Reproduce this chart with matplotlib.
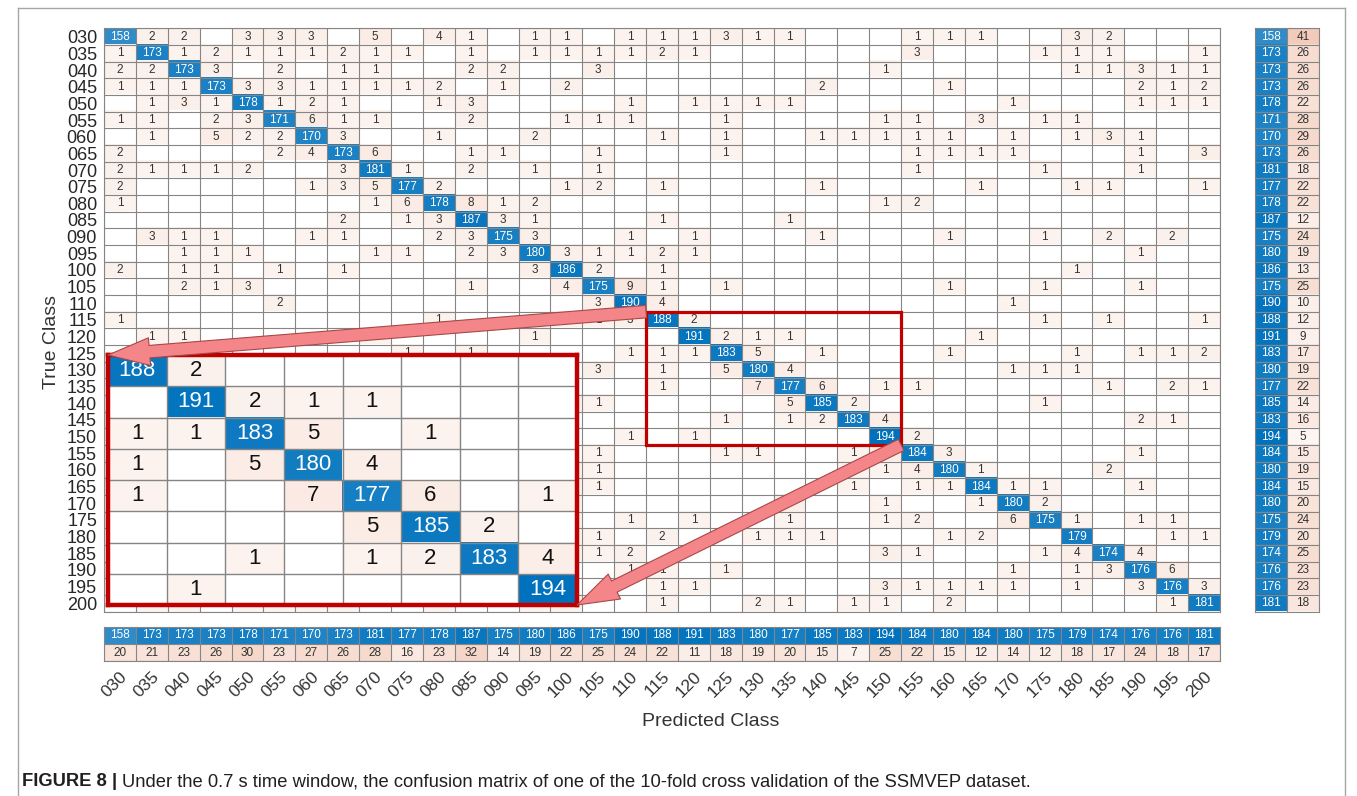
import numpy as np
import matplotlib
matplotlib.use("Agg")
import matplotlib.pyplot as plt
from matplotlib.patches import Rectangle, ConnectionPatch, ArrowStyle
from matplotlib.lines import Line2D
from matplotlib.transforms import blended_transform_factory, ScaledTranslation

plt.rcParams['font.family'] = ['Liberation Sans', 'DejaVu Sans']

# ---------------- data ----------------
classes = ["030", "035", "040", "045", "050", "055", "060", "065", "070", "075",
           "080", "085", "090", "095", "100", "105", "110", "115", "120", "125",
           "130", "135", "140", "145", "150", "155", "160", "165", "170", "175",
           "180", "185", "190", "195", "200"]

correct_counts = [158, 173, 173, 173, 178, 171, 170, 173, 181, 177, 178, 187, 175, 180,
                  186, 175, 190, 188, 191, 183, 180, 177, 185, 183, 194, 184, 180, 184,
                  180, 175, 179, 174, 176, 176, 181]

# off-diagonal counts per true class: (predicted class index, count)
misclassified = [
    [(1, 2), (2, 2), (4, 3), (5, 3), (6, 3), (8, 5), (10, 4), (11, 1), (13, 1), (14, 1), (16, 1), (17, 1), (18, 1), (19, 3), (20, 1), (21, 1), (25, 1), (26, 1), (27, 1), (30, 3), (31, 2)],
    [(0, 1), (2, 1), (3, 2), (4, 1), (5, 1), (6, 1), (7, 2), (8, 1), (9, 1), (11, 1), (13, 1), (14, 1), (15, 1), (16, 1), (17, 2), (18, 1), (25, 3), (29, 1), (30, 1), (31, 1), (34, 1)],
    [(0, 2), (1, 2), (3, 3), (5, 2), (7, 1), (8, 1), (11, 2), (12, 2), (15, 3), (24, 1), (30, 1), (31, 1), (32, 3), (33, 1), (34, 1)],
    [(0, 1), (1, 1), (2, 1), (4, 3), (5, 3), (6, 1), (7, 1), (8, 1), (9, 1), (10, 2), (12, 1), (14, 2), (22, 2), (26, 1), (32, 2), (33, 1), (34, 2)],
    [(1, 1), (2, 3), (3, 1), (5, 1), (6, 2), (7, 1), (10, 1), (11, 3), (16, 1), (18, 1), (19, 1), (20, 1), (21, 1), (28, 1), (32, 1), (33, 1), (34, 1)],
    [(0, 1), (1, 1), (3, 2), (4, 3), (6, 6), (7, 1), (8, 1), (11, 2), (14, 1), (15, 1), (16, 1), (19, 1), (24, 1), (25, 1), (27, 3), (29, 1), (30, 1)],
    [(1, 1), (3, 5), (4, 2), (5, 2), (7, 3), (10, 1), (13, 2), (17, 1), (19, 1), (22, 1), (23, 1), (24, 1), (25, 1), (26, 1), (28, 1), (30, 1), (31, 3), (32, 1)],
    [(0, 2), (5, 2), (6, 4), (8, 6), (11, 1), (12, 1), (15, 1), (19, 1), (25, 1), (26, 1), (27, 1), (28, 1), (32, 1), (34, 3)],
    [(0, 2), (1, 1), (2, 1), (3, 1), (4, 2), (7, 3), (9, 1), (11, 2), (13, 1), (15, 1), (25, 1), (29, 1), (32, 1)],
    [(0, 2), (6, 1), (7, 3), (8, 5), (10, 2), (14, 1), (15, 2), (17, 1), (22, 1), (27, 1), (30, 1), (31, 1), (34, 1)],
    [(0, 1), (8, 1), (9, 6), (11, 8), (12, 1), (13, 2), (24, 1), (25, 2)],
    [(7, 2), (9, 1), (10, 3), (12, 3), (13, 1), (17, 1), (21, 1)],
    [(1, 3), (2, 1), (3, 1), (6, 1), (7, 1), (10, 2), (11, 3), (13, 3), (16, 1), (18, 1), (22, 1), (26, 1), (29, 1), (31, 2), (33, 2)],
    [(2, 1), (3, 1), (4, 1), (8, 1), (9, 1), (11, 2), (12, 3), (14, 3), (15, 1), (16, 1), (17, 2), (18, 1), (32, 1)],
    [(0, 2), (2, 1), (3, 1), (5, 1), (7, 1), (13, 3), (15, 2), (17, 1), (30, 1)],
    [(2, 2), (3, 1), (4, 3), (11, 1), (14, 4), (16, 9), (17, 1), (19, 1), (26, 1), (29, 1), (32, 1)],
    [(5, 2), (15, 3), (17, 4), (28, 1)],
    [(0, 1), (10, 1), (14, 1), (15, 1), (16, 3), (18, 2), (29, 1), (31, 1), (34, 1)],
    [(1, 1), (2, 1), (8, 1), (13, 1), (19, 2), (20, 1), (21, 1), (27, 1)],
    [(9, 1), (11, 1), (16, 1), (17, 1), (18, 1), (20, 5), (22, 1), (26, 1), (30, 1), (32, 1), (33, 1), (34, 2)],
    [(0, 1), (4, 1), (11, 1), (15, 3), (17, 1), (19, 5), (21, 4), (28, 1), (29, 1), (30, 1)],
    [(2, 1), (9, 1), (17, 1), (20, 7), (22, 6), (24, 1), (25, 1), (31, 1), (33, 2), (34, 1)],
    [(1, 1), (3, 1), (6, 1), (10, 1), (14, 1), (15, 1), (21, 5), (23, 2), (29, 1)],
    [(0, 1), (4, 1), (5, 1), (8, 1), (13, 1), (19, 1), (21, 1), (22, 2), (24, 4), (32, 2), (33, 1)],
    [(7, 1), (16, 1), (18, 1), (25, 2)],
    [(12, 1), (15, 1), (19, 1), (20, 1), (23, 1), (24, 6), (26, 3), (32, 1)],
    [(1, 1), (2, 1), (3, 1), (4, 1), (6, 1), (8, 1), (10, 1), (11, 1), (14, 1), (15, 1), (23, 1), (24, 1), (25, 4), (27, 1), (31, 2)],
    [(0, 1), (2, 1), (4, 1), (5, 1), (7, 1), (9, 1), (12, 1), (14, 1), (15, 1), (23, 1), (25, 1), (26, 1), (28, 1), (29, 1), (32, 1)],
    [(1, 1), (2, 1), (3, 2), (4, 2), (5, 1), (6, 1), (7, 1), (8, 1), (10, 1), (11, 1), (14, 1), (21, 3), (24, 1), (27, 1), (29, 2)],
    [(0, 1), (1, 1), (2, 1), (4, 1), (5, 1), (6, 1), (9, 1), (13, 1), (14, 1), (16, 1), (18, 1), (21, 1), (24, 1), (25, 2), (28, 6), (30, 1), (32, 1), (33, 1)],
    [(1, 1), (2, 1), (3, 1), (4, 1), (5, 1), (7, 1), (8, 1), (10, 1), (14, 1), (15, 1), (17, 2), (20, 1), (21, 1), (22, 1), (26, 1), (27, 2), (33, 1), (34, 1)],
    [(1, 1), (2, 1), (3, 1), (4, 1), (6, 1), (7, 1), (10, 1), (11, 1), (14, 1), (15, 1), (16, 2), (24, 3), (25, 1), (29, 1), (30, 4), (32, 4)],
    [(0, 1), (2, 1), (3, 1), (4, 1), (6, 1), (7, 1), (9, 1), (10, 1), (12, 1), (16, 1), (17, 1), (19, 1), (28, 1), (30, 1), (31, 3), (33, 6)],
    [(1, 1), (3, 1), (4, 1), (6, 1), (8, 1), (11, 1), (13, 1), (17, 1), (18, 1), (24, 3), (25, 1), (26, 1), (27, 1), (28, 1), (30, 1), (32, 3), (34, 3)],
    [(1, 1), (2, 1), (4, 1), (5, 1), (6, 1), (7, 1), (10, 1), (13, 1), (14, 1), (17, 1), (20, 2), (21, 1), (23, 1), (24, 1), (26, 2), (33, 1)],
]

row_errors = [41, 26, 26, 26, 22, 28, 29, 26, 18, 22, 22, 12, 24, 19, 13, 25, 10, 12, 9,
              17, 19, 22, 14, 16, 5, 15, 19, 15, 20, 24, 20, 25, 23, 23, 18]
col_errors = [20, 21, 23, 26, 30, 23, 27, 26, 28, 16, 23, 32, 14, 19, 22, 25, 24, 22, 11,
              18, 19, 20, 15, 7, 25, 22, 15, 12, 14, 12, 18, 17, 24, 18, 17]

zoom_first, zoom_last = 17, 24   # classes 115 .. 150 shown enlarged

# ---------------- build matrix ----------------
n = len(classes)
cm = np.zeros((n, n), dtype=int)
for i, v in enumerate(correct_counts):
    cm[i, i] = v
for i, row in enumerate(misclassified):
    for j, v in row:
        cm[i, j] = v

BLUE = np.array([0, 114, 189]) / 255.0
RED = np.array([217, 83, 25]) / 255.0
vmax = cm.max()
emax = max(max(row_errors), max(col_errors))


def tint(base, a):
    return 1.0 - a * (1.0 - base)


def cell_rgb(v, diag):
    if v == 0:
        return np.ones(3)
    if diag:
        return tint(BLUE, v / vmax)
    return tint(RED, 0.065 + 0.008 * v)


def err_rgb(v):
    return tint(RED, 0.02 + 0.28 * v / emax)


img = np.ones((n, n, 3))
for i in range(n):
    for j in range(n):
        img[i, j] = cell_rgb(cm[i, j], i == j)

GRID = '#858585'
TXT = '#333333'
W, H = 1357, 796


def fx(px):
    return px / W


def fy(py):
    return 1 - py / H


fig = plt.figure(figsize=(W / 100, H / 100), dpi=100)

top, bot = 28.4, 611.5
left, right = 104, 1220

# ---------------- main matrix ----------------
ax = fig.add_axes([fx(left), fy(bot), (right - left) / W, (bot - top) / H])
ax.imshow(img, extent=(-0.5, n - 0.5, n - 0.5, -0.5), aspect='auto', interpolation='nearest')
ax.vlines(np.arange(n + 1) - 0.5, -0.5, n - 0.5, color=GRID, lw=0.8)
ax.hlines(np.arange(n + 1) - 0.5, -0.5, n - 0.5, color=GRID, lw=0.8)
for i in range(n):
    for j in range(n):
        v = cm[i, j]
        if v:
            ax.text(j, i, str(v), ha='center', va='center', fontsize=8.5,
                    color='white' if i == j else TXT)
ax.set_xlim(-0.5, n - 0.5)
ax.set_ylim(n - 0.5, -0.5)
ax.set_xticks([])
ax.set_yticks(range(n))
ax.set_yticklabels(classes, fontsize=13, color='#262626')
ax.tick_params(axis='y', length=0, pad=5)
for s in ax.spines.values():
    s.set_color(GRID)
    s.set_linewidth(0.8)

# small red box around zoomed region
ax.add_patch(Rectangle((zoom_first - 0.5, zoom_first - 0.5), zoom_last - zoom_first + 1,
                       zoom_last - zoom_first + 1, fill=False, ec='#c00000', lw=2.3,
                       zorder=5, clip_on=False))

# ---------------- right summary (per true class) ----------------
ax_r = fig.add_axes([fx(1255), fy(bot), 64 / W, (bot - top) / H])
rimg = np.ones((n, 2, 3))
for i in range(n):
    rimg[i, 0] = tint(BLUE, correct_counts[i] / vmax)
    rimg[i, 1] = err_rgb(row_errors[i])
ax_r.imshow(rimg, extent=(-0.5, 1.5, n - 0.5, -0.5), aspect='auto', interpolation='nearest')
ax_r.vlines(np.arange(3) - 0.5, -0.5, n - 0.5, color=GRID, lw=0.8)
ax_r.hlines(np.arange(n + 1) - 0.5, -0.5, 1.5, color=GRID, lw=0.8)
for i in range(n):
    ax_r.text(0, i, str(correct_counts[i]), ha='center', va='center', fontsize=8.5, color='white')
    ax_r.text(1, i, str(row_errors[i]), ha='center', va='center', fontsize=8.5, color=TXT)
ax_r.set_xlim(-0.5, 1.5)
ax_r.set_ylim(n - 0.5, -0.5)
ax_r.set_xticks([])
ax_r.set_yticks([])
for s in ax_r.spines.values():
    s.set_color(GRID)
    s.set_linewidth(0.8)

# ---------------- bottom summary (per predicted class) ----------------
b_top, b_bot = 627, 661
ax_b = fig.add_axes([fx(left), fy(b_bot), (right - left) / W, (b_bot - b_top) / H])
bimg = np.ones((2, n, 3))
col_correct = [cm[j, j] for j in range(n)]
for j in range(n):
    bimg[0, j] = tint(BLUE, col_correct[j] / vmax)
    bimg[1, j] = err_rgb(col_errors[j])
ax_b.imshow(bimg, extent=(-0.5, n - 0.5, 1.5, -0.5), aspect='auto', interpolation='nearest')
ax_b.vlines(np.arange(n + 1) - 0.5, -0.5, 1.5, color=GRID, lw=0.8)
ax_b.hlines(np.arange(3) - 0.5, -0.5, n - 0.5, color=GRID, lw=0.8)
for j in range(n):
    ax_b.text(j, 0, str(col_correct[j]), ha='center', va='center', fontsize=8.5, color='white')
    ax_b.text(j, 1, str(col_errors[j]), ha='center', va='center', fontsize=8.5, color=TXT)
ax_b.set_xlim(-0.5, n - 0.5)
ax_b.set_ylim(1.5, -0.5)
ax_b.set_xticks([])
ax_b.set_yticks([])
for s in ax_b.spines.values():
    s.set_color(GRID)
    s.set_linewidth(0.8)

# rotated x tick labels
tr = blended_transform_factory(ax_b.transData, fig.transFigure) + \
    ScaledTranslation(5 / 100, 0, fig.dpi_scale_trans)
for j, lab in enumerate(classes):
    fig.text(j, fy(674), lab, transform=tr, rotation=45, rotation_mode='anchor',
             ha='right', va='center', fontsize=12.5, color='#333333')

fig.text(fx(711), fy(721), 'Predicted Class', ha='center', va='center', fontsize=14, color='#333333')
fig.text(fx(52), fy(342), 'True Class', ha='center', va='center', rotation=90, fontsize=14, color='#333333')

# ---------------- enlarged inset ----------------
in_l, in_r, in_t, in_b = 108, 577, 355, 605
ax_in = fig.add_axes([fx(in_l), fy(in_b), (in_r - in_l) / W, (in_b - in_t) / H])
ax_in.imshow(img, extent=(-0.5, n - 0.5, n - 0.5, -0.5), aspect='auto', interpolation='nearest')
z = np.arange(zoom_first, zoom_last + 2) - 0.5
ax_in.vlines(z, zoom_first - 0.5, zoom_last + 0.5, color=GRID, lw=1.0)
ax_in.hlines(z, zoom_first - 0.5, zoom_last + 0.5, color=GRID, lw=1.0)
for i in range(zoom_first, zoom_last + 1):
    for j in range(zoom_first, zoom_last + 1):
        v = cm[i, j]
        if v:
            ax_in.text(j, i, str(v), ha='center', va='center', fontsize=16,
                       color='white' if i == j else '#111111')
ax_in.set_xlim(zoom_first - 0.5, zoom_last + 0.5)
ax_in.set_ylim(zoom_last + 0.5, zoom_first - 0.5)
ax_in.set_xticks([])
ax_in.set_yticks([])
for s in ax_in.spines.values():
    s.set_color('#c00000')
    s.set_linewidth(3.2)

# ---------------- arrows ----------------
style = ArrowStyle.Simple(head_length=30, head_width=20, tail_width=9)
a1 = ConnectionPatch(xyA=(zoom_first - 0.5, zoom_first - 0.5), coordsA=ax.transData,
                     xyB=(0, 1), coordsB=ax_in.transAxes, arrowstyle=style,
                     mutation_scale=1, shrinkA=0, shrinkB=0,
                     fc='#f4868a', ec='#a84848', lw=0.8, zorder=10)
a2 = ConnectionPatch(xyA=(zoom_last + 0.5, zoom_last + 0.5), coordsA=ax.transData,
                     xyB=(1, 0), coordsB=ax_in.transAxes, arrowstyle=style,
                     mutation_scale=1, shrinkA=0, shrinkB=0,
                     fc='#f4868a', ec='#a84848', lw=0.8, zorder=10)
fig.add_artist(a1)
fig.add_artist(a2)

# ---------------- frame & caption ----------------
FR = '#a6a6a6'
fig.add_artist(Line2D([fx(18), fx(18)], [fy(8), 0], transform=fig.transFigure, color=FR, lw=1))
fig.add_artist(Line2D([fx(1345), fx(1345)], [fy(8), 0], transform=fig.transFigure, color=FR, lw=1))
fig.add_artist(Line2D([fx(18), fx(1345)], [fy(8), fy(8)], transform=fig.transFigure, color=FR, lw=1))

t1 = fig.text(fx(22), fy(782), 'FIGURE 8 |', fontsize=13.2, fontweight='bold',
              ha='left', va='center', color='#231f20')
fig.canvas.draw()
bb = t1.get_window_extent()
fig.text((bb.x1 + 5) / W, fy(782),
         'Under the 0.7 s time window, the confusion matrix of one of the 10-fold cross validation of the SSMVEP dataset.',
         fontsize=13.2, ha='left', va='center', color='#231f20')

fig.savefig('out.png', dpi=100)
